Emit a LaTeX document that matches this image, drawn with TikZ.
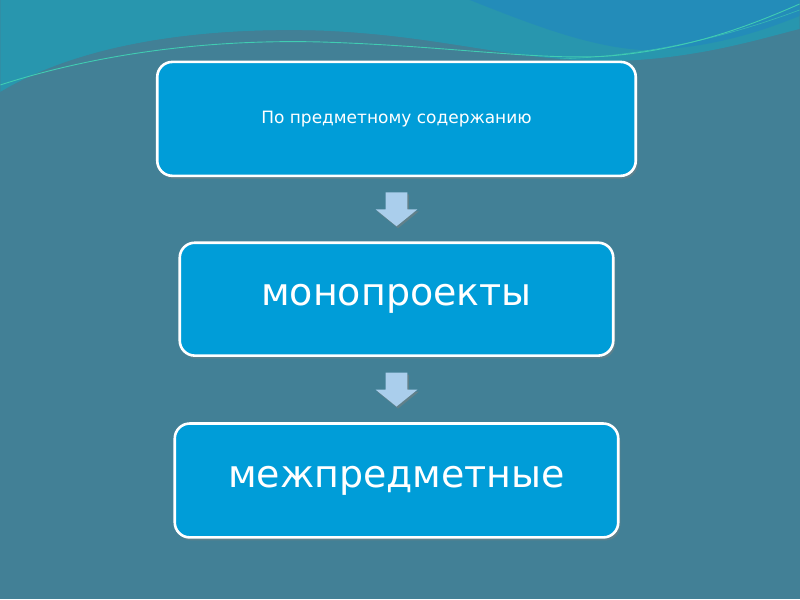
\documentclass[tikz,border=0pt]{standalone}
\usepackage{fontspec}
\setmainfont{DejaVu Sans}
\usetikzlibrary{calc,positioning,shadows}
\definecolor{slideBg}{RGB}{66,128,150}
\definecolor{waveTeal}{RGB}{40,150,174}
\definecolor{waveBlue}{RGB}{34,138,188}
\definecolor{waveLine}{RGB}{64,204,178}
\definecolor{boxBlue}{RGB}{0,157,216}
\definecolor{arrowBlue}{RGB}{170,206,236}

\begin{document}
\begin{tikzpicture}[x=1pt,y=-1pt,
  stepbox/.style={draw=white, line width=2.6pt, fill=boxBlue, rounded corners=15pt,
    text=white, inner sep=0pt, outer sep=0pt,
    drop shadow={shadow xshift=2pt, shadow yshift=-3pt, opacity=0.45}},
  blockarrow/.style={fill=arrowBlue, draw=none,
    drop shadow={shadow xshift=1.5pt, shadow yshift=-2pt, opacity=0.5}}]
% background and waves
\fill[slideBg] (0,0) rectangle (800,600);
\fill[waveTeal] (0,0) -- (0,92) .. controls (80,44) and (200,26) .. (330,31)
  .. controls (450,37) and (520,63) .. (620,61) .. controls (700,58) and (760,39) .. (800,29)
  -- (800,0) -- cycle;
\fill[waveBlue, opacity=0.8] (470,0) .. controls (540,28) and (590,46) .. (640,50)
  .. controls (710,50) and (765,30) .. (800,16) -- (800,0) -- cycle;
\fill[slideBg, opacity=0.35] (0,92) .. controls (80,44) and (200,26) .. (330,31)
  .. controls (250,37) and (120,62) .. (0,99) -- cycle;
\draw[waveLine, line width=0.9pt] (0,85) .. controls (90,56) and (200,39) .. (320,42)
  .. controls (450,46) and (540,61) .. (610,56) .. controls (690,49) and (750,26) .. (800,4);
\draw[waveLine, line width=0.6pt, opacity=0.7] (560,59) .. controls (650,56) and (730,36) .. (800,10);

% boxes
\node[stepbox, minimum width=479pt, minimum height=114pt] (top) at (396.5,119)
  {\fontsize{17}{20}\selectfont По предметному содержанию};
\node[stepbox, minimum width=434pt, minimum height=113pt, below=67pt of top] (mono)
  {\fontsize{38}{44}\selectfont монопроекты};
\node[stepbox, minimum width=444pt, minimum height=114pt, below=68pt of mono] (inter)
  {\fontsize{38}{44}\selectfont межпредметные};

% block arrows
\coordinate (a1) at ($(top.south)!0.5!(mono.north)$);
\coordinate (a2) at ($(mono.south)!0.5!(inter.north)$);
\foreach \a in {a1,a2}
  \fill[blockarrow] (\a) ++(-11,-17) -- ++(22,0) -- ++(0,17) -- ++(10,0)
    -- ++(-21,17) -- ++(-21,-17) -- ++(10,0) -- cycle;
\end{tikzpicture}
\end{document}
